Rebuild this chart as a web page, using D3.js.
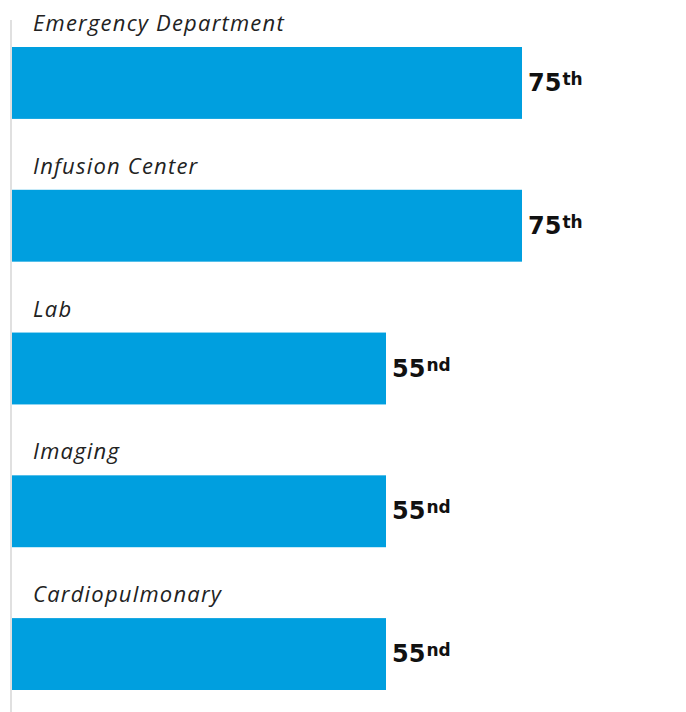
<!DOCTYPE html>
<html lang="en">
<head>
  <meta charset="UTF-8">
  <title>Percentile by Department</title>
  <style>
    html, body {
      margin: 0;
      padding: 0;
      background: #fff;
    }
    .cat-label {
      font-family: "Open Sans", sans-serif;
      font-style: italic;
      font-size: 22px;
      letter-spacing: 1.2px;
      fill: #222;
    }
    .val-label {
      font-family: "DejaVu Sans", sans-serif;
      font-weight: bold;
      font-size: 24px;
      fill: #111;
    }
  </style>
</head>
<body>
  <div id="chart"></div>
  <script src="https://d3js.org/d3.v7.min.js"></script>
  <script>
    var categories = ["Emergency Department", "Infusion Center", "Lab", "Imaging", "Cardiopulmonary"];
    var percentiles = [75, 75, 55, 55, 55];
    var suffixes = ["th", "th", "nd", "nd", "nd"];

    var width = 686, height = 712;

    var rows = categories.map(function(c, i) {
      return { name: c, value: percentiles[i], suffix: suffixes[i] };
    });

    var svg = d3.select("#chart")
      .append("svg")
      .attr("width", width)
      .attr("height", height);

    var x = d3.scaleLinear()
      .domain([0, 100])
      .range([12, 692]);

    var y = d3.scaleBand()
      .domain(categories)
      .range([47, 690])
      .paddingInner(71 / 143)
      .paddingOuter(0);

    // left baseline
    svg.append("line")
      .attr("x1", 11).attr("x2", 11)
      .attr("y1", 20).attr("y2", height)
      .attr("stroke", "#d6d6d6")
      .attr("stroke-width", 1.5);

    var row = svg.selectAll("g.row")
      .data(rows)
      .enter().append("g")
      .attr("class", "row");

    row.append("rect")
      .attr("x", x(0))
      .attr("y", function(d) { return y(d.name); })
      .attr("width", function(d) { return x(d.value) - x(0); })
      .attr("height", y.bandwidth())
      .attr("fill", "#009fdf");

    row.append("text")
      .attr("class", "cat-label")
      .attr("x", 33)
      .attr("y", function(d) { return y(d.name) - 16; })
      .text(function(d) { return d.name; });

    var val = row.append("text")
      .attr("class", "val-label")
      .attr("x", function(d) { return x(d.value) + 6; })
      .attr("y", function(d) { return y(d.name) + y.bandwidth() / 2 + 8; });

    val.append("tspan")
      .text(function(d) { return d.value; });

    val.append("tspan")
      .attr("dy", -6)
      .attr("dx", 1)
      .style("font-size", "17px")
      .text(function(d) { return d.suffix; });
  </script>
</body>
</html>
